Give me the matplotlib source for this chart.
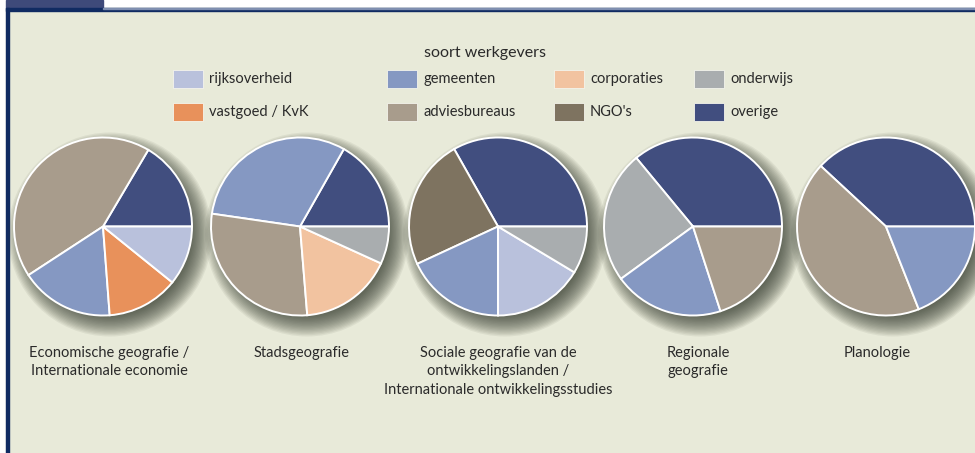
import matplotlib
matplotlib.use("Agg")
import matplotlib.pyplot as plt
from matplotlib.patches import Rectangle, Circle

plt.rcParams["font.family"] = ["Lato", "DejaVu Sans"]

# Werkgeverscategorieën en kleuren
categories = ["rijksoverheid", "gemeenten", "corporaties", "onderwijs",
              "vastgoed / KvK", "adviesbureaus", "NGO's", "overige"]
cat_colors = {
    "rijksoverheid": "#B9C1DC",
    "gemeenten": "#8598C2",
    "corporaties": "#F2C3A0",
    "onderwijs": "#A9ADAF",
    "vastgoed / KvK": "#E8915B",
    "adviesbureaus": "#A89C8C",
    "NGO's": "#7E7360",
    "overige": "#414E7F",
}

# Aandelen (%) per opleiding, tegen de klok in vanaf 0 graden
econ_cats = ["overige", "adviesbureaus", "gemeenten", "vastgoed / KvK", "rijksoverheid"]
econ_shares = [16.5, 42.7, 17.0, 13.0, 10.8]

stad_cats = ["overige", "gemeenten", "adviesbureaus", "corporaties", "onderwijs"]
stad_shares = [16.8, 30.9, 28.6, 16.9, 6.8]

sociaal_cats = ["overige", "NGO's", "gemeenten", "rijksoverheid", "onderwijs"]
sociaal_shares = [33.2, 23.7, 18.1, 16.4, 8.6]

regio_cats = ["overige", "onderwijs", "gemeenten", "adviesbureaus"]
regio_shares = [36.0, 24.0, 20.0, 20.0]

plan_cats = ["overige", "adviesbureaus", "gemeenten"]
plan_shares = [38.1, 42.9, 19.0]

pie_titles = [
    "Economische geografie /\nInternationale economie",
    "Stadsgeografie",
    "Sociale geografie van de\nontwikkelingslanden /\nInternationale ontwikkelingsstudies",
    "Regionale\ngeografie",
    "Planologie",
]

W, H = 975, 453
BG = "#E8EAD9"
NAVY = "#102B62"


def Y(y):
    """Pixel-y (van boven) naar data-y."""
    return H - y


fig = plt.figure(figsize=(W / 100, H / 100), dpi=100)
fig.patch.set_facecolor("white")
ax = fig.add_axes([0, 0, 1, 1])

# Kader
ax.add_patch(Rectangle((6, 0), W - 6, H - 8, color=BG, zorder=0))
ax.add_patch(Rectangle((6, Y(8.3)), 97, 8.3, color="#3E4A7A", zorder=1))
ax.add_patch(Rectangle((6, Y(11)), W - 6, 2.7, color=NAVY, zorder=1))
ax.add_patch(Rectangle((103, Y(8.6)), W - 103, 0.6, color="#7F8FB0", zorder=1))
ax.add_patch(Rectangle((6, 0), 2.7, H - 8, color=NAVY, zorder=1))

# Taarten
pies = [
    (econ_cats, econ_shares),
    (stad_cats, stad_shares),
    (sociaal_cats, sociaal_shares),
    (regio_cats, regio_shares),
    (plan_cats, plan_shares),
]
centers_x = [103, 300, 498, 693, 886]
label_x = [109, 302, 498, 698, 877]
cy = Y(226.5)
R = 89

for (cats, shares), cx, lx, title in zip(pies, centers_x, label_x, pie_titles):
    # zachte schaduw rechtsonder
    for i in range(18):
        ax.add_patch(Circle((cx + 7, cy - 8), R + 13 - i * 1.3,
                            color="#343A2E", alpha=0.07, lw=0, zorder=2))
    wedges, _ = ax.pie(shares, colors=[cat_colors[c] for c in cats],
                       startangle=0, counterclock=True, radius=R,
                       center=(cx, cy),
                       wedgeprops=dict(edgecolor="white", linewidth=1.4))
    for w in wedges:
        w.set_zorder(3)
    ax.text(lx, Y(345.5), title, ha="center", va="top", fontsize=10.5,
            color="#2A2A2A", linespacing=1.45, zorder=4)

# Legenda
ax.text(485, Y(53), "soort werkgevers", ha="center", va="center",
        fontsize=11.5, color="#2A2A2A")
legend_cols = [173, 387, 554, 694]
legend_rows = [78.5, 112]
for i, cat in enumerate(categories):
    lx = legend_cols[i % 4]
    ly = legend_rows[i // 4]
    ax.add_patch(Rectangle((lx, Y(ly + 9)), 30, 18, facecolor=cat_colors[cat],
                           edgecolor="#F4F4EC", lw=0.6, zorder=3))
    ax.text(lx + 36, Y(ly), cat, ha="left", va="center", fontsize=10.5,
            color="#2A2A2A")

ax.set_xlim(0, W)
ax.set_ylim(0, H)
ax.set_aspect("auto")
ax.axis("off")

fig.savefig("out.png", dpi=100, facecolor=fig.get_facecolor())
